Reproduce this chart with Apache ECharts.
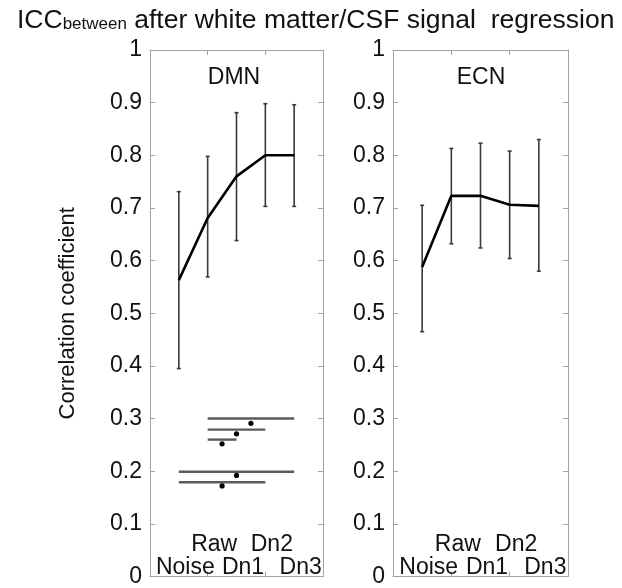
<!DOCTYPE html>
<html>
<head>
<meta charset="utf-8">
<script src="https://cdn.jsdelivr.net/npm/echarts@6/dist/echarts.min.js"></script>
<style>
  html, body { margin: 0; padding: 0; background: #fff; }
  #chart { width: 622px; height: 588px; }
</style>
</head>
<body>
<div id="chart"></div>
<script>
// conditions sit at x = 1..5 on a 0..6 axis
const conditions = ['Noise', 'Raw', 'Dn1', 'Dn2', 'Dn3'];
const conditionX = [1, 2, 3, 4, 5];

// DMN panel
const dmnMean = [0.563, 0.681, 0.760, 0.800, 0.800];
const dmnLow = [0.395, 0.569, 0.638, 0.703, 0.703];
const dmnHigh = [0.731, 0.798, 0.881, 0.898, 0.896];

// ECN panel
const ecnMean = [0.588, 0.723, 0.723, 0.706, 0.704];
const ecnLow = [0.465, 0.632, 0.624, 0.604, 0.580];
const ecnHigh = [0.705, 0.813, 0.823, 0.808, 0.830];

// significance bars drawn in the DMN panel
const sigLevel = [0.300, 0.279, 0.260, 0.199, 0.179];
const sigFrom = [2, 2, 2, 1, 1];
const sigTo = [5, 4, 3, 5, 4];
const sigDotX = [3.5, 3, 2.5, 3, 2.5];
const sigDotY = [0.291, 0.271, 0.252, 0.192, 0.172];

const FONT = 'Liberation Sans, Arial, sans-serif';
const frameColor = '#a3a3a3';

const chart = echarts.init(document.getElementById('chart'));

function labelName(v, row) {
  const i = conditionX.indexOf(v);
  if (i < 0) return '';
  // Noise, Dn1, Dn3 on the lower row; Raw, Dn2 on the upper row
  if (row === 'low' && i % 2 === 0) return conditions[i];
  if (row === 'high' && i % 2 === 1) return conditions[i];
  return '';
}

function frameX(gridIndex, position) {
  return {
    gridIndex, type: 'value', min: 0, max: 6, interval: 2, position,
    axisLine: { onZero: false, lineStyle: { color: frameColor, width: 1 } },
    axisTick: { inside: true, length: 5, lineStyle: { color: frameColor } },
    axisLabel: { show: false }, splitLine: { show: false }
  };
}

function labelX(gridIndex, row, margin) {
  return {
    gridIndex, type: 'value', min: 0, max: 6, interval: 1, position: 'bottom',
    axisLine: { show: false, onZero: false }, axisTick: { show: false }, splitLine: { show: false },
    axisLabel: {
      inside: true, margin, fontSize: 23, fontFamily: FONT, color: '#111',
      padding: [0, 0, 0, 13],
      formatter: v => labelName(v, row)
    }
  };
}

function xAxes(gridIndex) {
  return [
    frameX(gridIndex, 'bottom'),
    frameX(gridIndex, 'top'),
    labelX(gridIndex, 'low', -3),
    labelX(gridIndex, 'high', 20)
  ];
}

function yAxes(gridIndex, withName) {
  const left = {
    gridIndex, type: 'value', min: 0, max: 1, interval: 0.1, position: 'left',
    axisLine: { show: true, onZero: false, lineStyle: { color: frameColor, width: 1 } },
    axisTick: { show: true, inside: true, length: 5, lineStyle: { color: frameColor } },
    splitLine: { show: false },
    axisLabel: {
      fontSize: 23, fontFamily: FONT, color: '#111', margin: 8,
      padding: [0, 0, 10, 0]
    }
  };
  if (withName) {
    left.name = 'Correlation coefficient';
    left.nameLocation = 'middle';
    left.nameGap = 71;
    left.nameTextStyle = { fontSize: 22, fontFamily: FONT, color: '#111' };
  }
  const right = {
    gridIndex, type: 'value', min: 0, max: 1, interval: 0.1, position: 'right',
    axisLine: { show: true, onZero: false, lineStyle: { color: frameColor, width: 1 } },
    axisTick: { show: true, inside: true, length: 5, lineStyle: { color: frameColor } },
    axisLabel: { show: false }, splitLine: { show: false }
  };
  return [left, right];
}

function errorBarSeries(xAxisIndex, yAxisIndex, low, high) {
  return {
    type: 'custom', xAxisIndex, yAxisIndex, silent: true,
    data: conditionX.map((x, i) => [x, low[i], high[i]]),
    encode: { x: 0, y: [1, 2] },
    renderItem: (params, api) => {
      const top = api.coord([api.value(0), api.value(2)]);
      const bot = api.coord([api.value(0), api.value(1)]);
      const st = { stroke: '#3a3a3a', lineWidth: 1.6 };
      return {
        type: 'group',
        children: [
          { type: 'line', shape: { x1: top[0], y1: top[1], x2: bot[0], y2: bot[1] }, style: st },
          { type: 'line', shape: { x1: top[0] - 2, y1: top[1], x2: top[0] + 2, y2: top[1] }, style: st },
          { type: 'line', shape: { x1: bot[0] - 2, y1: bot[1], x2: bot[0] + 2, y2: bot[1] }, style: st }
        ]
      };
    }
  };
}

function meanSeries(xAxisIndex, yAxisIndex, mean) {
  return {
    type: 'line', xAxisIndex, yAxisIndex, silent: true,
    data: conditionX.map((x, i) => [x, mean[i]]),
    showSymbol: false,
    lineStyle: { color: '#000', width: 2.6 }
  };
}

const option = {
  backgroundColor: '#fff',
  animation: false,
  title: {
    left: 12, top: 2,
    text: '{big|ICC}{small|between}{big| after white matter/CSF signal  regression}',
    textStyle: {
      fontWeight: 'normal',
      rich: {
        big: { fontSize: 26.5, fontWeight: 'normal', fontFamily: FONT, color: '#111', verticalAlign: 'bottom' },
        small: { fontSize: 17, fontWeight: 'normal', fontFamily: FONT, color: '#111', verticalAlign: 'bottom', padding: [0, 0, 1, 0] }
      }
    }
  },
  graphic: [
    { type: 'text', x: 234, y: 78, style: { text: 'DMN', font: '23px ' + FONT, fill: '#111', align: 'center', verticalAlign: 'middle' } },
    { type: 'text', x: 481, y: 78, style: { text: 'ECN', font: '23px ' + FONT, fill: '#111', align: 'center', verticalAlign: 'middle' } }
  ],
  grid: [
    { left: 150, top: 50, width: 173, height: 530 },
    { left: 393, top: 50, width: 175, height: 530 }
  ],
  xAxis: xAxes(0).concat(xAxes(1)),
  yAxis: yAxes(0, true).concat(yAxes(1, false)),
  series: [
    errorBarSeries(0, 0, dmnLow, dmnHigh),
    meanSeries(0, 0, dmnMean),
    {
      type: 'custom', xAxisIndex: 0, yAxisIndex: 0, silent: true,
      data: sigLevel.map((lv, i) => [sigFrom[i], sigTo[i], lv, sigDotX[i], sigDotY[i]]),
      encode: { x: [0, 1], y: 2 },
      renderItem: (params, api) => {
        const a = api.coord([api.value(0), api.value(2)]);
        const b = api.coord([api.value(1), api.value(2)]);
        const d = api.coord([api.value(3), api.value(4)]);
        return {
          type: 'group',
          children: [
            { type: 'line', shape: { x1: a[0], y1: a[1], x2: b[0], y2: b[1] }, style: { stroke: '#5a5a5a', lineWidth: 2.4 } },
            { type: 'circle', shape: { cx: d[0], cy: d[1], r: 2.6 }, style: { fill: '#000' } }
          ]
        };
      }
    },
    errorBarSeries(4, 2, ecnLow, ecnHigh),
    meanSeries(4, 2, ecnMean)
  ]
};

chart.setOption(option);
</script>
</body>
</html>
